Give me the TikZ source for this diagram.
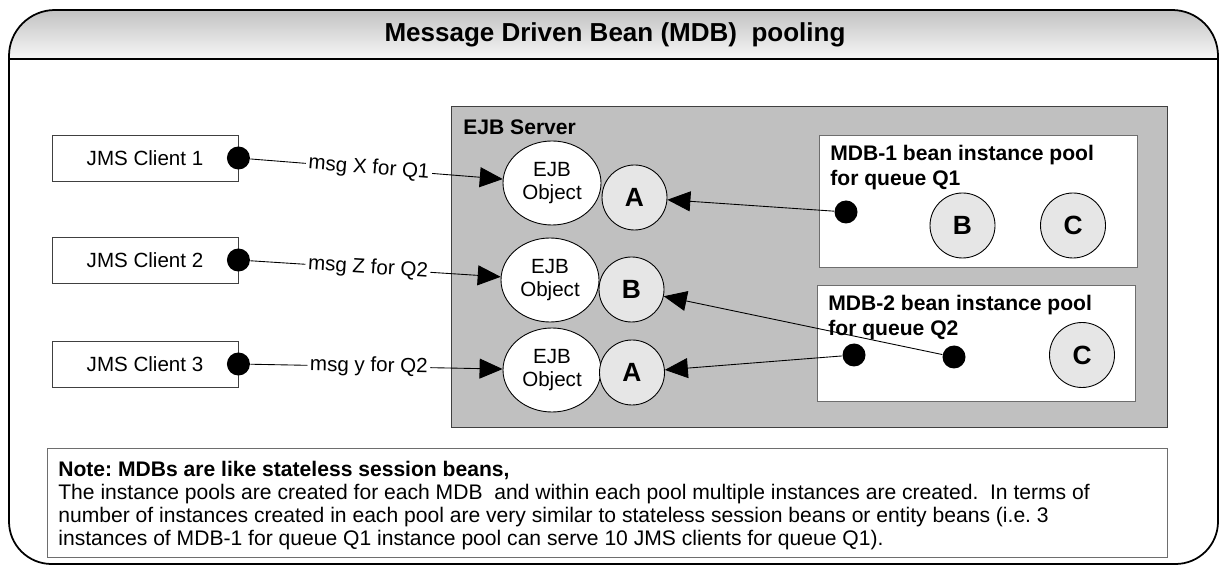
\documentclass[tikz,border=0pt]{standalone}
\usepackage{fontspec}
\setmainfont{Liberation Sans}
\usetikzlibrary{shapes.geometric,arrows.meta,positioning}
\definecolor{cServer}{HTML}{C0C0C0}
\definecolor{cBean}{HTML}{E6E6E6}
\definecolor{cEdge}{HTML}{404040}
\definecolor{cPool}{HTML}{6E6E6E}
\definecolor{cHeadTop}{HTML}{C2C2C2}
\definecolor{cHeadBot}{HTML}{F7F7F7}
\frenchspacing
\tikzset{
  client/.style = {rectangle, draw=cEdge, fill=white, line width=0.5pt, inner sep=0pt,
                   minimum width=3.72cm, minimum height=0.92cm, font=\fontsize{11.7}{13}\selectfont},
  plug/.style   = {circle, fill=black, inner sep=0pt, minimum size=0.46cm},
  eobj/.style   = {ellipse, draw=black, fill=white, line width=0.5pt, inner sep=0pt, align=center,
                   minimum width=1.96cm, minimum height=1.68cm, font=\fontsize{11.7}{13}\selectfont},
  bean/.style   = {circle, draw=black, fill=cBean, line width=0.5pt, inner sep=0pt,
                   minimum size=1.3cm, font=\fontsize{15}{17}\selectfont\bfseries},
  pool/.style   = {rectangle, draw=cPool, fill=white, line width=0.6pt, anchor=north west, inner sep=0pt},
  ttl/.style    = {font=\fontsize{12}{14.2}\selectfont\bfseries, align=left, inner sep=0pt, anchor=west},
  lab/.style    = {font=\fontsize{11.7}{13}\selectfont, fill=white, inner sep=1.5pt, sloped},
  msg/.style    = {-{Triangle[length=0.46cm, width=0.4cm]}, draw=black, line width=0.5pt},
}

\begin{document}
\begin{tikzpicture}
  \useasboundingbox (0,0) rectangle (24.4,-11.3);
  % outer frame with shaded header
  \shade[top color=cHeadTop, bottom color=cHeadBot]
    (0.18,-1.18) -- (0.18,-1.12) arc[start angle=180, end angle=90, radius=0.92]
    -- (23.44,-0.2) arc[start angle=90, end angle=0, radius=0.92] -- (24.36,-1.18) -- cycle;
  \draw[line width=1pt]
    (0.18,-1.18) -- (0.18,-1.12) arc[start angle=180, end angle=90, radius=0.92]
    -- (23.44,-0.2) arc[start angle=90, end angle=0, radius=0.92] -- (24.36,-1.18) -- cycle;
  \draw[line width=1pt]
    (0.18,-1.18) -- (0.18,-10.43) arc[start angle=180, end angle=270, radius=0.85]
    -- (23.51,-11.28) arc[start angle=270, end angle=360, radius=0.85] -- (24.36,-1.18);
  \node[font=\fontsize{14.8}{17}\selectfont\bfseries] (title) at (12.3,-0.69)
    {Message Driven Bean (MDB)\ \ pooling};

  % server and pools
  \node[draw=cEdge, fill=cServer, line width=0.6pt, anchor=north west, inner sep=0pt,
        minimum width=14.32cm, minimum height=6.42cm] (server) at (9.02,-2.12) {};
  \node[ttl] (srvlab) at (9.26,-2.55) {EJB Server};
  \node[pool, minimum width=6.36cm, minimum height=2.64cm] (pool1) at (16.38,-2.7) {};
  \node[pool, minimum width=6.36cm, minimum height=2.32cm] (pool2) at (16.34,-5.7) {};
  \node[ttl] (p1lab) at (16.6,-3.35) {MDB-1 bean instance pool\\for queue Q1};
  \node[ttl] (p2lab) at (16.56,-6.35) {MDB-2 bean instance pool\\for queue Q2};

  % clients
  \foreach \i/\y in {1/-3.16,2/-5.2,3/-7.28} {
    \node[client] (c\i) at (2.9,\y) {JMS Client \i};
    \node[plug] (d\i) at (c\i.east) {};
  }

  % EJB objects and beans
  \foreach \i/\x/\y in {1/11.04/-3.66,2/11.0/-5.6,3/11.04/-7.4}
    \node[eobj] (eo\i) at (\x,\y) {EJB\\Object};
  \node[bean] (sA1) at (12.69,-3.95) {A};
  \node[bean] (sB)  at (12.63,-5.79) {B};
  \node[bean] (sA2) at (12.64,-7.45) {A};
  \node[bean] (qB)  at (19.25,-4.51) {B};
  \node[bean] (qC1) at (21.46,-4.51) {C};
  \node[bean] (qC2) at (21.64,-7.1) {C};
  \node[plug] (q1pin)  at (16.92,-4.24) {};
  \node[plug] (q2pinA) at (17.08,-7.1) {};
  \node[plug] (q2pinB) at (19.08,-7.14) {};

  % messages
  \draw[msg] (d1) -- node[lab, pos=0.47]{msg X for Q1} (eo1);
  \draw[msg] (d2) -- node[lab, pos=0.47]{msg Z for Q2} (eo2);
  \draw[msg] (d3) -- node[lab, pos=0.47]{msg y for Q2} (eo3);
  \draw[msg] (q1pin) -- (sA1);
  \draw[msg] (q2pinB) -- (sB);
  \draw[msg] (q2pinA) -- (sA2);

  % note
  \node[draw=cPool, fill=white, line width=0.6pt, anchor=north west, inner sep=0pt,
        minimum width=22.4cm, minimum height=2.18cm] (note) at (0.94,-8.96) {};
  \node[anchor=north west, align=left, inner sep=0pt, font=\fontsize{12}{13}\selectfont]
    (notetxt) at (1.16,-9.22)
    {\textbf{Note: MDBs are like stateless session beans,}\\
     The instance pools are created for each MDB\ \ and within each pool multiple instances are created.\ \ In terms of\\
     number of instances created in each pool are very similar to stateless session beans or entity beans (i.e. 3\\
     instances of MDB-1 for queue Q1 instance pool can serve 10 JMS clients for queue Q1).};
\end{tikzpicture}
\end{document}
